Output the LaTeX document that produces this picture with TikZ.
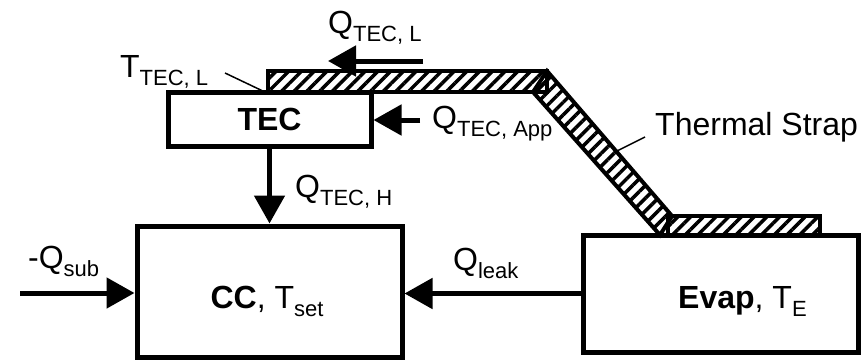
\documentclass[tikz,border=0pt]{standalone}
\usepackage{fontspec}
\setmainfont{Liberation Sans}
\usetikzlibrary{arrows.meta,positioning,patterns.meta}
\newcommand{\sub}[1]{\raisebox{-8pt}{\fontsize{22}{22}\selectfont #1}}

\begin{document}
\begin{tikzpicture}[x=1pt,y=1pt,>={Triangle[length=28pt,width=30pt]},
  box/.style={draw,line width=5pt,inner sep=0pt},
  strap/.style={draw,line width=4pt,line join=miter,
    pattern={Lines[angle=45,distance=9pt,line width=3.5pt]}},
  flow/.style={->,line width=5pt},
  leader/.style={line width=1.5pt},
  every node/.style={font=\fontsize{32}{36}\selectfont,inner sep=0pt}]
  \useasboundingbox (0,0) rectangle (867,360);
  % blocks
  \node[box,minimum width=203pt,minimum height=54pt] (tec) at (269.5,241) {\textbf{TEC}};
  \node[box,minimum width=265pt,minimum height=131pt] (cc) at (269.5,68.5) {};
  \node[box,minimum width=275pt,minimum height=117pt] (evap) at (720.5,66.5) {};
  \node[anchor=base] (cctext) at (267,52) {\textbf{CC}, T\sub{set}};
  \node[anchor=base west] (evaptext) at (678,52) {\textbf{Evap}, T\sub{E}};
  % thermal strap
  \draw[strap] (268,268) rectangle (547,289);
  \draw[strap] (533,268) -- (547,289) -- (672,144) -- (660,125) -- cycle;
  \draw[strap] (668,125) rectangle (820,144);
  % labels
  \node[anchor=base west] (qtecl) at (328,327) {Q\sub{TEC, L}};
  \node[anchor=base west] (ttecl) at (120,283) {T\sub{TEC, L}};
  \node[anchor=base west] (qtecapp) at (432,232) {Q\sub{TEC, App}};
  \node[anchor=base west] (strapname) at (655,225) {Thermal Strap};
  \node[anchor=base west] (qtech) at (295,163) {Q\sub{TEC, H}};
  \node[anchor=base west] (qsub) at (28,92) {-Q\sub{sub}};
  \node[anchor=base west] (qleak) at (453,90) {Q\sub{leak}};
  % heat flows
  \coordinate (subin) at (20,67);
  \coordinate (appin) at (420,240);
  \coordinate (lin) at (423,299);
  \coordinate (lout) at (328,299);
  \draw[flow] (tec) -- (cc);
  \draw[flow] (subin) -- (subin -| cc.west);
  \draw[flow] (evap.west) -- (evap.west -| cc.east);
  \draw[flow] (appin) -- (appin -| tec.east);
  \draw[flow] (lin) -- (lout);
  % leaders
  \coordinate (tlead) at (225,287);
  \coordinate (ttip) at (267,267);
  \coordinate (slead) at (645,223);
  \coordinate (stip) at (615,208);
  \draw[leader] (tlead) -- (ttip);
  \draw[leader] (slead) -- (stip);
\end{tikzpicture}
\end{document}
